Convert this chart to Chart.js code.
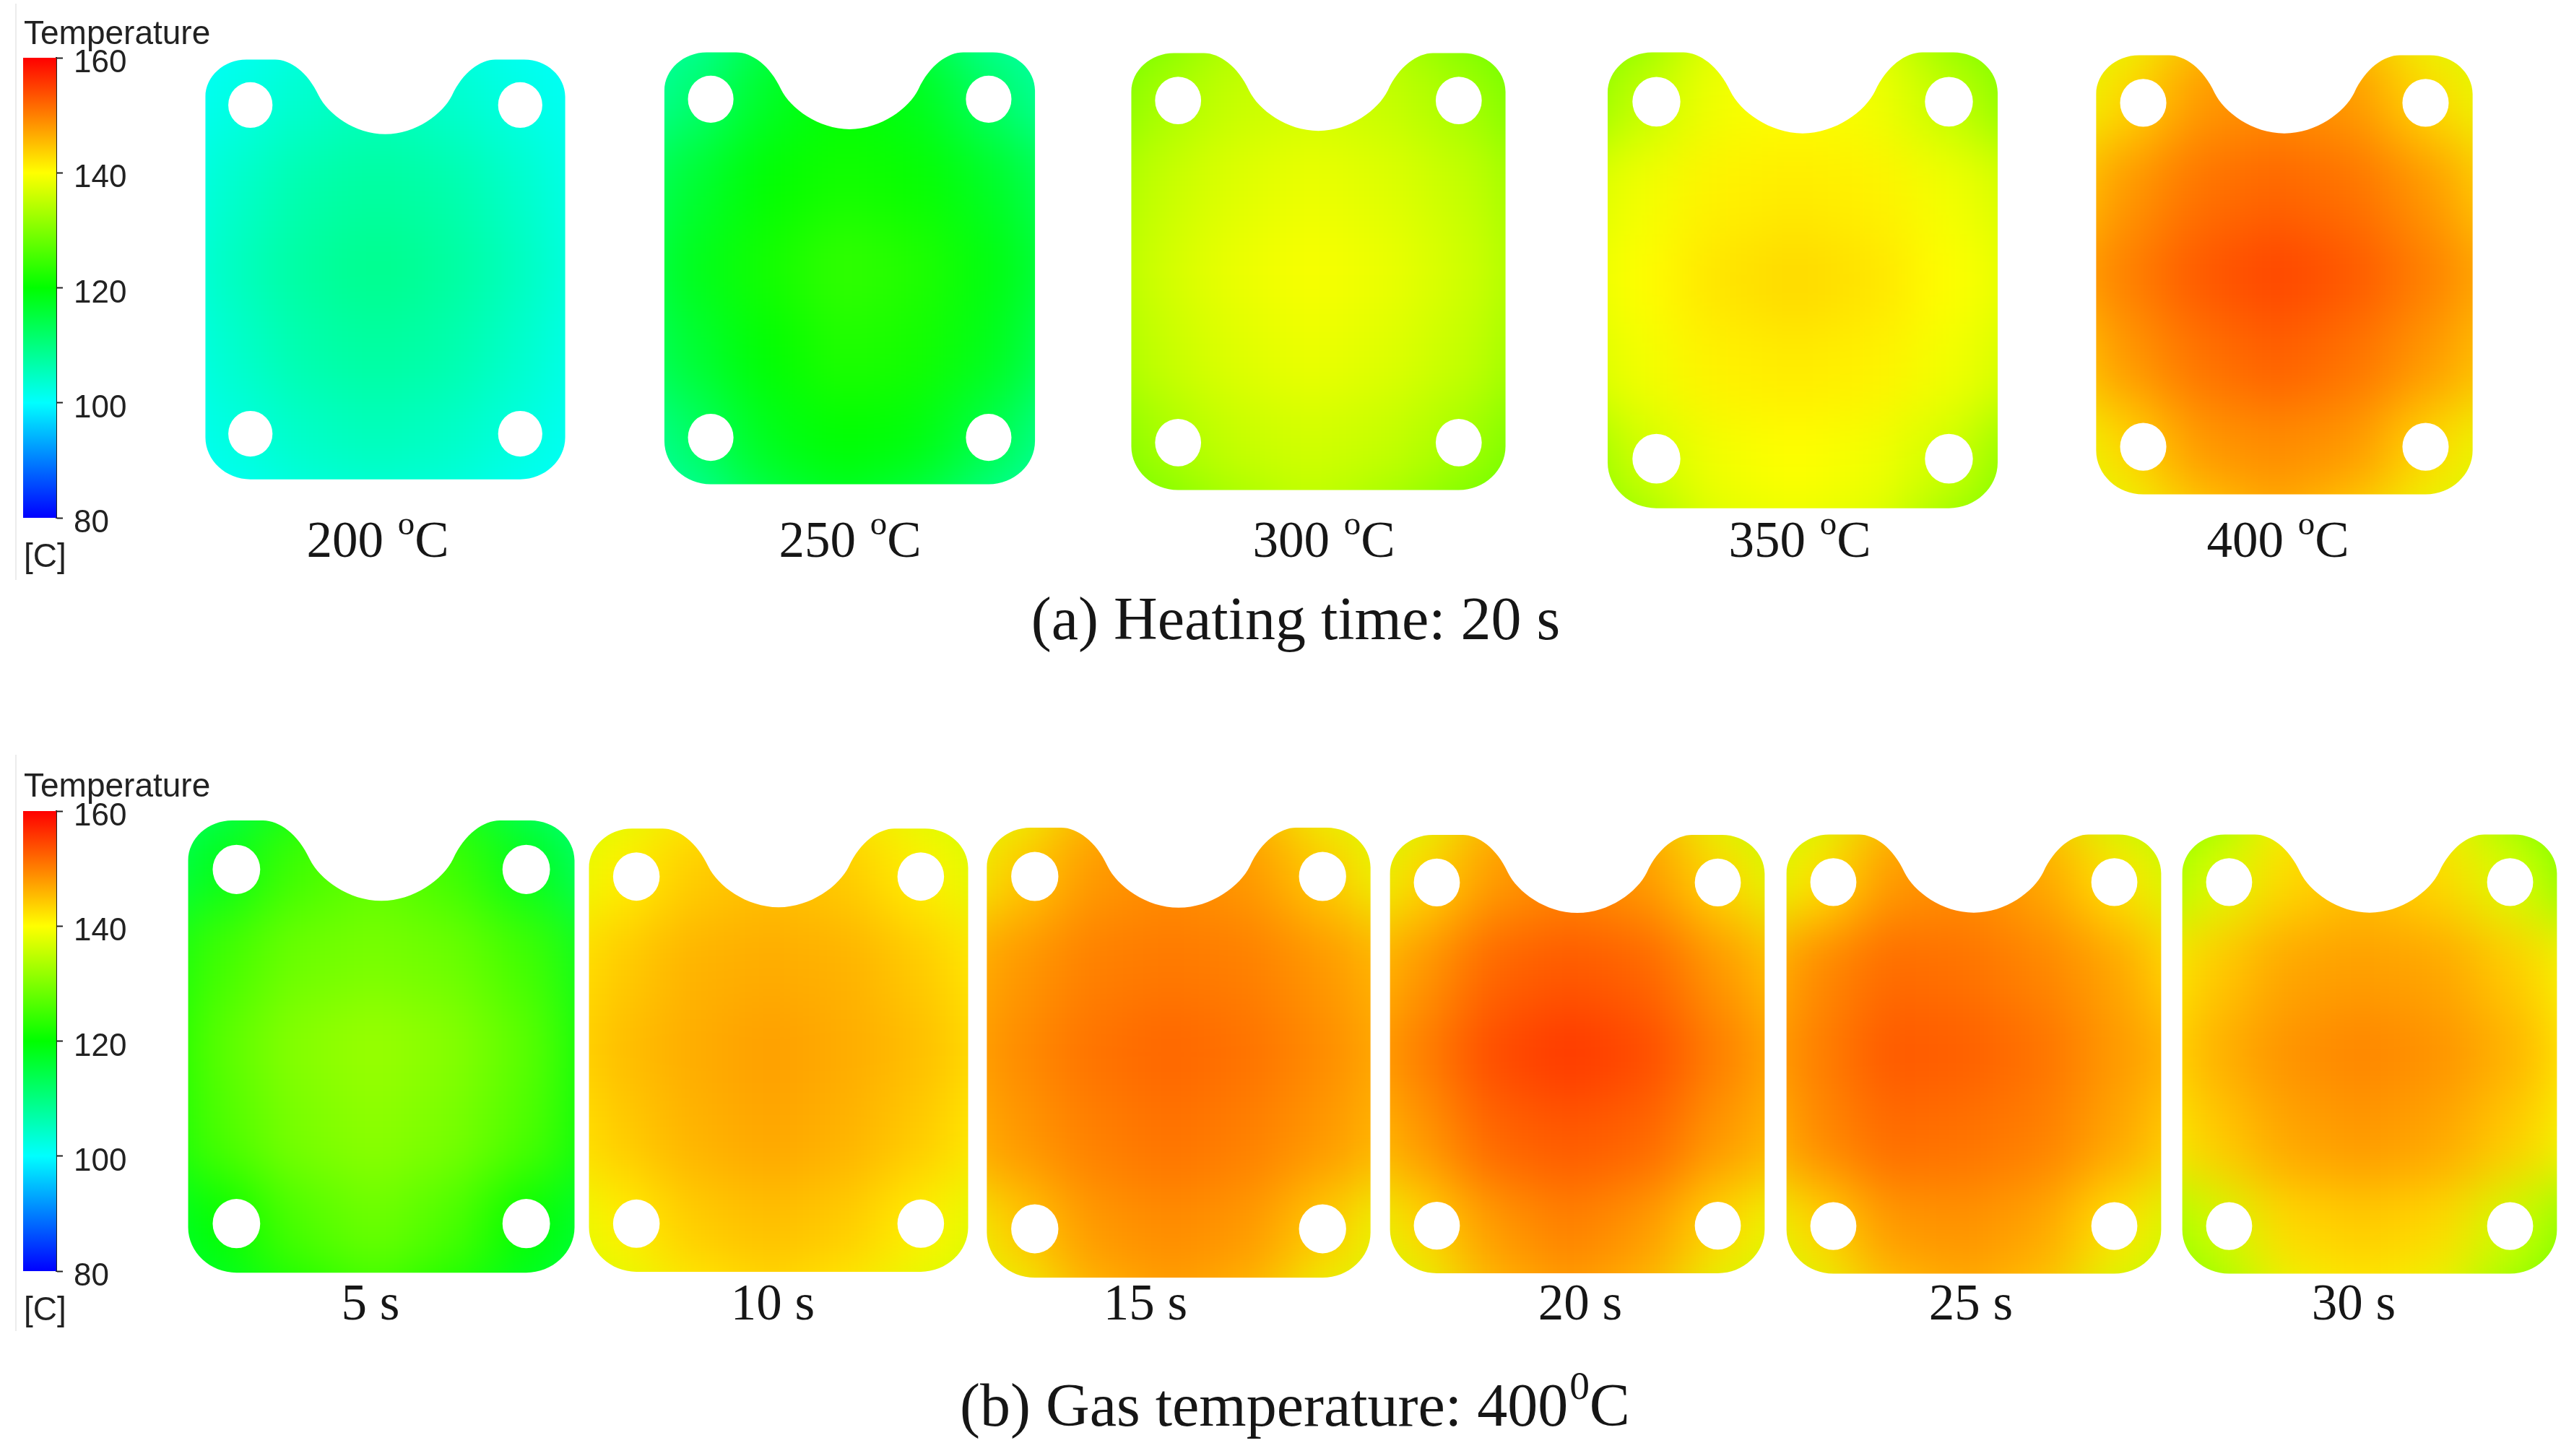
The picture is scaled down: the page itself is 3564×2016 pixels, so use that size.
<!DOCTYPE html>
<html>
<head>
<meta charset="utf-8">
<title>Temperature contours</title>
<script src="https://cdn.jsdelivr.net/npm/chart.js@4/dist/chart.umd.min.js"></script>
<style>
  html, body { margin: 0; background: #fff; }
  #page { position: relative; width: 3564px; height: 2016px; overflow: hidden; }
  #page canvas { position: absolute; }
  .serif, .sans { position: absolute; white-space: nowrap; line-height: 1; color: #161616; transform: translate(-50%, -50%); }
  .serif { font-family: "Liberation Serif", serif; font-size: 71px; }
  .caption { font-size: 84px; }
  .sans { font-family: "Liberation Sans", sans-serif; font-size: 46px; color: #222; transform: translateY(-50%); }
  .serif sup { font-size: .66em; line-height: 0; vertical-align: .66em; margin-left: 2px; }
  .rule { position: absolute; width: 2px; background: #ececec; }
</style>
</head>
<body>
<div id="page"></div>
<script>
// colour bar
const tickValues = [80, 100, 120, 140, 160];
const barColors = ['#0000ff', '#00ffff', '#00ff00', '#ffff00', '#ff0000'];

// grid nodes of every plate, plate half widths/heights = 1
const gridX = [-1.2, -0.8, -0.4, 0, 0.4, 0.8, 1.2];
const gridY = [1.2, 0.8, 0.4, 0, -0.4, -0.8, -1.2];

// (a) heating time 20 s, temperatures
const gasTemps = ['200', '250', '300', '350', '400'];
const gas200 = [
  [100, 100.5, 102, 103, 102, 100.5, 100],
  [100.5, 102, 104, 105.5, 104, 102, 100.5],
  [101, 104, 106.5, 107.5, 106.5, 104, 101],
  [101.5, 105, 107.5, 109, 107.5, 105, 101.5],
  [101, 104, 106.5, 107.5, 106.5, 104, 101],
  [100.5, 102.5, 104.5, 105.5, 104.5, 102.5, 100.5],
  [100, 100.5, 102, 102.5, 102, 100.5, 100]
];
const gas250 = [
  [105, 107, 113, 117, 113, 107, 105],
  [107, 111, 117, 120, 118, 112, 107],
  [111, 116, 120, 121.5, 120.5, 117, 112],
  [112, 118, 121.5, 124, 122.5, 119, 114],
  [111, 116, 120, 122.5, 121.5, 118, 112],
  [107, 112, 118, 120, 119, 114, 108],
  [104, 107, 113, 116, 113, 108, 104]
];
const gas300 = [
  [126, 129, 133, 135, 133, 129, 126],
  [129, 133, 135.5, 136.5, 135.5, 133, 129],
  [132, 135.5, 137.5, 138.5, 137.5, 135.5, 132],
  [133, 136.5, 138.5, 139.5, 138.5, 136.5, 133],
  [132, 135.5, 137.5, 138.5, 137.5, 135.5, 132],
  [129, 133, 135.5, 136.5, 135.5, 133, 129],
  [126, 129, 132, 134.5, 132, 129, 126]
];
const gas350 = [
  [127, 130, 137, 139, 137, 130, 127],
  [130, 135, 139, 140, 139, 135, 130],
  [136, 139, 141, 141.5, 141, 139, 136],
  [137.5, 140, 142, 143, 142, 140, 137.5],
  [136, 139, 141, 141.5, 141, 139, 136],
  [130, 136, 139, 140, 139, 136, 130],
  [127, 131, 137, 138, 137, 131, 127]
];
const gas400 = [
  [135, 138, 144, 147, 144, 138, 135],
  [138, 143, 148, 149, 148, 143, 138],
  [143, 148, 151, 152, 151, 148, 143],
  [146, 150, 153, 154.5, 153, 150, 146],
  [143, 148, 151, 152.5, 151, 148, 144],
  [138, 143, 148, 149, 148, 143, 138],
  [135, 138, 143, 146, 143, 138, 135]
];

// (b) gas temperature 400 C
const heatTimes = ['5', '10', '15', '20', '25', '30'];
const time5 = [
  [108, 112, 118, 123, 118, 111, 107],
  [112, 118, 125, 127.5, 125, 118, 111],
  [118, 125, 128.5, 129.5, 128.5, 125, 117],
  [120, 127, 130.5, 132, 130.5, 127, 119],
  [119, 126, 129.5, 131, 129.5, 126, 119],
  [115, 120, 126, 128.5, 126, 120, 115],
  [113, 116, 121, 124, 121, 116, 113]
];
const time10 = [
  [135, 137, 141, 143, 141, 137, 135],
  [137, 141, 144, 145, 144, 141, 137],
  [141, 144, 146, 146.5, 146, 144, 141],
  [142, 145, 146.5, 147.5, 146.5, 145, 142],
  [141, 144, 146, 147, 146, 144, 141],
  [137, 141, 144, 145, 144, 141, 137],
  [135, 137, 141, 142.5, 141, 137, 135]
];
const time15 = [
  [135, 138, 145, 148, 145, 138, 135],
  [138, 144, 148, 149, 148, 144, 138],
  [145, 148, 150, 150.5, 150, 148, 145],
  [146, 149, 151, 152, 151, 149, 146],
  [145, 148, 150, 151, 150, 148, 145],
  [138, 144, 148, 149, 148, 144, 138],
  [135, 138, 145, 147, 145, 138, 135]
];
const time20 = [
  [132, 137, 145, 147, 145, 137, 132],
  [137, 143, 148, 149.5, 148, 143, 137],
  [144, 148, 152, 153, 152, 148, 144],
  [146, 150, 154, 155.5, 154, 150, 146],
  [144, 148, 152, 153, 152, 148, 145],
  [137, 143, 148, 150, 148, 143, 138],
  [132, 137, 145, 147, 145, 137, 133]
];
const time25 = [
  [133, 136, 144, 147, 143, 135, 132],
  [136, 142, 148, 149, 147, 142, 136],
  [144, 149, 151.5, 151, 149.5, 147, 142],
  [146, 150, 153, 152.5, 151, 148, 145],
  [144, 149, 151.5, 151, 150, 147, 143],
  [137, 143, 148, 148.5, 147, 142, 136],
  [133, 137, 144, 146, 144, 136, 132]
];
const time30 = [
  [127, 131, 139, 143, 139, 131, 126],
  [131, 137, 143, 145, 143, 137, 130],
  [139, 144, 147, 147.5, 147, 144, 139],
  [141, 146, 148.5, 149.5, 148.5, 146, 141],
  [139, 144, 147, 148, 147, 144, 139],
  [131, 136, 143, 144, 143, 136, 130],
  [127, 131, 138, 141, 138, 131, 126]
];

// left, right, top, bottom of each plate on the page
const plates = [
  { grid: gas200, box: [284, 782, 82, 663] },
  { grid: gas250, box: [920, 1433, 72, 670] },
  { grid: gas300, box: [1566, 2084, 73, 678] },
  { grid: gas350, box: [2226, 2766, 72, 703] },
  { grid: gas400, box: [2902, 3423, 76, 684] },
  { grid: time5, box: [260, 795, 1136, 1762] },
  { grid: time10, box: [815, 1340, 1147, 1761] },
  { grid: time15, box: [1366, 1897, 1146, 1769] },
  { grid: time20, box: [1925, 2444, 1156, 1763] },
  { grid: time25, box: [2474, 2993, 1155, 1763] },
  { grid: time30, box: [3022, 3541, 1155, 1763] }
];

const page = document.getElementById('page');
const PAD = 1.6;   // scale range around a plate, room for the blur
const BLUR = 40;

function tempColor(t) {
  const pos = Math.max(0, Math.min(3.999, (t - tickValues[0]) / 20));
  const i = Math.floor(pos);
  const f = pos - i;
  const a = barColors[i], b = barColors[i + 1];
  const mix = s => Math.round(parseInt(a.substr(s, 2), 16) * (1 - f) + parseInt(b.substr(s, 2), 16) * f);
  return `rgb(${mix(1)},${mix(3)},${mix(5)})`;
}

function addCanvas(left, top, width, height) {
  const canvas = document.createElement('canvas');
  canvas.width = width;
  canvas.height = height;
  canvas.style.left = left + 'px';
  canvas.style.top = top + 'px';
  canvas.style.width = width + 'px';
  canvas.style.height = height + 'px';
  page.appendChild(canvas);
  return canvas;
}

// plate outline in scale units, right half mirrored from the left one
function tracePlate(ctx, px, py) {
  const holeX = 0.75, holeY = 0.783, holeRx = 0.123, holeRy = 0.109;
  ctx.beginPath();
  ctx.moveTo(px(-1), py(-0.8));
  ctx.lineTo(px(-1), py(0.823));
  ctx.bezierCurveTo(px(-1), py(0.92), px(-0.897), py(1), px(-0.772), py(1));
  ctx.lineTo(px(-0.612), py(1));
  ctx.bezierCurveTo(px(-0.53), py(1), px(-0.43), py(0.94), px(-0.371), py(0.829));
  ctx.bezierCurveTo(px(-0.32), py(0.74), px(-0.17), py(0.645), px(0), py(0.644));
  ctx.bezierCurveTo(px(0.17), py(0.645), px(0.32), py(0.74), px(0.371), py(0.829));
  ctx.bezierCurveTo(px(0.43), py(0.94), px(0.53), py(1), px(0.612), py(1));
  ctx.lineTo(px(0.772), py(1));
  ctx.bezierCurveTo(px(0.897), py(1), px(1), py(0.92), px(1), py(0.823));
  ctx.lineTo(px(1), py(-0.8));
  ctx.bezierCurveTo(px(1), py(-0.91), px(0.886), py(-1), px(0.75), py(-1));
  ctx.lineTo(px(-0.75), py(-1));
  ctx.bezierCurveTo(px(-0.886), py(-1), px(-1), py(-0.91), px(-1), py(-0.8));
  ctx.closePath();
  [[-holeX, holeY], [holeX, holeY], [-holeX, -holeY], [holeX, -holeY]].forEach(([x, y]) => {
    const rx = Math.abs(px(x + holeRx) - px(x));
    const ry = Math.abs(py(y + holeRy) - py(y));
    ctx.moveTo(px(x) + rx, py(y));
    ctx.ellipse(px(x), py(y), rx, ry, 0, 0, Math.PI * 2);
  });
}

// smooths the coarse cells, then cuts them to the plate shape
const plateMask = {
  id: 'plateMask',
  afterDatasetsDraw(chart) {
    const { ctx, canvas, scales } = chart;
    const copy = document.createElement('canvas');
    copy.width = canvas.width;
    copy.height = canvas.height;
    copy.getContext('2d').drawImage(canvas, 0, 0);
    ctx.save();
    ctx.clearRect(0, 0, canvas.width, canvas.height);
    ctx.filter = `blur(${BLUR}px)`;
    ctx.drawImage(copy, 0, 0);
    ctx.filter = 'none';
    ctx.globalCompositeOperation = 'destination-in';
    tracePlate(ctx, v => scales.x.getPixelForValue(v), v => scales.y.getPixelForValue(v));
    ctx.fill('evenodd');
    ctx.restore();
  }
};

function drawPlate(plate) {
  const [left, right, top, bottom] = plate.box;
  const halfW = (right - left) / 2;
  const halfH = (bottom - top) / 2;
  const canvas = addCanvas(Math.round(left + halfW - PAD * halfW), Math.round(top + halfH - PAD * halfH),
    Math.round(2 * PAD * halfW), Math.round(2 * PAD * halfH));
  const cells = [];
  gridY.forEach((y, r) => gridX.forEach((x, c) => cells.push({ x, y, t: plate.grid[r][c] })));
  new Chart(canvas, {
    type: 'scatter',
    data: {
      datasets: [{
        data: cells,
        pointStyle: 'rect',
        pointBorderWidth: 0,
        pointBackgroundColor: c => tempColor(c.raw.t),
        pointRadius: c => {
          const { x, y } = c.chart.scales;
          const stepX = x.getPixelForValue(0.4) - x.getPixelForValue(0);
          const stepY = y.getPixelForValue(0) - y.getPixelForValue(0.4);
          return Math.max(stepX, stepY) * 1.02 * Math.SQRT1_2;
        }
      }]
    },
    options: {
      responsive: false,
      animation: false,
      events: [],
      layout: { padding: 0 },
      scales: {
        x: { type: 'linear', display: false, min: -PAD, max: PAD },
        y: { type: 'linear', display: false, min: -PAD, max: PAD }
      },
      plugins: { legend: { display: false }, tooltip: { enabled: false } }
    },
    plugins: [plateMask]
  });
}

function drawColorBar(top, bottom) {
  const pad = 40;
  const barW = 46, axisW = 120;
  const canvas = addCanvas(32, top - pad, barW + axisW, bottom - top + 2 * pad);
  new Chart(canvas, {
    type: 'bar',
    data: {
      labels: ['Temperature'],
      datasets: [{
        data: [[tickValues[0], tickValues[tickValues.length - 1]]],
        barPercentage: 1,
        categoryPercentage: 1,
        backgroundColor: c => {
          const area = c.chart.chartArea;
          if (!area) return barColors[0];
          const g = c.chart.ctx.createLinearGradient(0, area.bottom, 0, area.top);
          barColors.forEach((col, i) => g.addColorStop(i / (barColors.length - 1), col));
          return g;
        }
      }]
    },
    options: {
      responsive: false,
      animation: false,
      events: [],
      layout: { padding: { top: pad, bottom: pad } },
      scales: {
        x: { display: false },
        y: {
          position: 'right',
          min: tickValues[0],
          max: tickValues[tickValues.length - 1],
          afterFit: s => { s.width = axisW; },
          border: { color: '#222', width: 2 },
          grid: { drawOnChartArea: false, tickLength: 9, tickWidth: 2, tickColor: '#222' },
          ticks: {
            stepSize: 20,
            padding: 15,
            color: '#222',
            // empty first line moves the number under its tick, as in the picture
            callback: v => ['', String(v)],
            font: { family: '"Liberation Sans"', size: 44, lineHeight: 16 / 44 }
          }
        }
      },
      plugins: { legend: { display: false }, tooltip: { enabled: false } }
    }
  });
}

function addText(cls, html, x, y) {
  const el = document.createElement('div');
  el.className = cls;
  el.innerHTML = html;
  el.style.left = x + 'px';
  el.style.top = y + 'px';
  page.appendChild(el);
}

function addRule(top, bottom) {
  const el = document.createElement('div');
  el.className = 'rule';
  el.style.left = '21px';
  el.style.top = top + 'px';
  el.style.height = (bottom - top) + 'px';
  page.appendChild(el);
}

addRule(5, 803);
addRule(1045, 1843);
plates.forEach(drawPlate);
drawColorBar(80, 717);
drawColorBar(1123, 1760);

addText('sans', 'Temperature', 33, 45);
addText('sans', '[C]', 33, 769);
addText('sans', 'Temperature', 33, 1087);
addText('sans', '[C]', 33, 1812);

const gasLabelX = [523, 1177, 1833, 2492, 3154];
gasTemps.forEach((t, i) => addText('serif', `${t} <sup>o</sup>C`, gasLabelX[i], 747));
const timeLabelX = [513, 1070, 1586, 2188, 2729, 3259];
heatTimes.forEach((t, i) => addText('serif', `${t} s`, timeLabelX[i], 1803));

addText('serif caption', '(a) Heating time: 20 s', 1794, 857);
addText('serif caption', '(b) Gas temperature: 400<sup>0</sup>C', 1793, 1946);
</script>
</body>
</html>
